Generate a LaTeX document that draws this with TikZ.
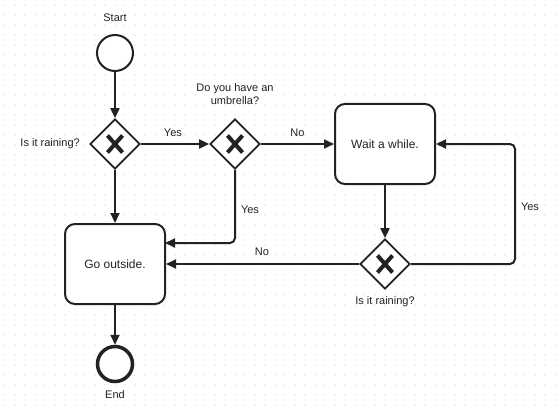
\documentclass[tikz,border=0pt]{standalone}
\usepackage{fontspec}
\setmainfont{Liberation Sans}
\usetikzlibrary{shapes.geometric,arrows.meta}
\definecolor{ink}{HTML}{222222}
\definecolor{txt}{HTML}{222222}
\definecolor{dotc}{HTML}{C8C8C8}
\begin{document}
\begin{tikzpicture}[x=1pt,y=-1pt,
  every node/.style={text=txt},
  lbl/.style={font=\fontsize{11}{13}\selectfont, inner sep=0pt, align=center},
  task/.style={draw=ink, line width=2pt, rounded corners=10pt, minimum width=100pt, minimum height=80pt, fill=white, font=\fontsize{12}{14}\selectfont},
  gateway/.style={diamond, aspect=1, draw=ink, line width=1.8pt, minimum width=50pt, minimum height=50pt, inner sep=0pt, fill=white,
    path picture={\draw[ink, line width=4pt] ([shift={(-7.5,-8.5)}]path picture bounding box.center) -- ([shift={(7.5,8.5)}]path picture bounding box.center);
                  \draw[ink, line width=4pt] ([shift={(7.5,-8.5)}]path picture bounding box.center) -- ([shift={(-7.5,8.5)}]path picture bounding box.center);}},
  startev/.style={circle, draw=ink, line width=2pt, minimum size=36pt, inner sep=0pt, fill=white},
  endev/.style={circle, draw=ink, line width=3.5pt, minimum size=35pt, inner sep=0pt, fill=white},
  flow/.style={draw=ink, line width=2pt, -{Triangle[length=10pt,width=9pt]}, rounded corners=5pt}
]
\fill[white] (0,0) rectangle (560,412);
\useasboundingbox (0,0) rectangle (560,412);
\foreach \x in {5,15,...,555} {
  \foreach \y in {5,15,...,405} {
    \fill[dotc] (\x,\y) circle (0.6);
  }
}

% nodes
\node[startev] (start) at (115,53) {};
\node[lbl] (startl) at (115,18) {Start};
\node[gateway] (gw1) at (115,144) {};
\node[lbl, anchor=east] (gw1l) at (80,144) {Is it raining?};
\node[gateway] (gw2) at (235,144) {};
\node[lbl] (gw2l) at (235,94) {Do you have an\\umbrella?};
\node[task] (wait) at (385,144) {Wait a while.};
\node[task] (go) at (115,264) {Go outside.};
\node[gateway] (gw3) at (385,264) {};
\node[lbl] (gw3l) at (385,302) {Is it raining?};
\node[endev] (end) at (115,364) {};
\node[lbl] (endl) at (115,395) {End};

\coordinate (goin) at (165,243);
\coordinate (rc) at (515,144);

% flows
\draw[flow] (start) -- (gw1);
\draw[flow] (gw1) -- node[lbl, pos=0.47, above=6pt] (y1) {Yes} (gw2);
\draw[flow] (gw2) -- node[lbl, pos=0.5, above=6pt] (n1) {No} (wait);
\draw[flow] (gw1) -- (go);
\draw[flow] (gw2.south) |- (goin);
\node[lbl] (y2) at (250,210) {Yes};
\draw[flow] (wait) -- (gw3);
\draw[flow] (gw3.west) -- (gw3.west -| go.east);
\node[lbl] (n2) at (262,252) {No};
\draw[flow] (gw3.east) -| (rc) -- (wait.east);
\node[lbl] (y3) at (530,207) {Yes};
\draw[flow] (go) -- (end);
\end{tikzpicture}
\end{document}
